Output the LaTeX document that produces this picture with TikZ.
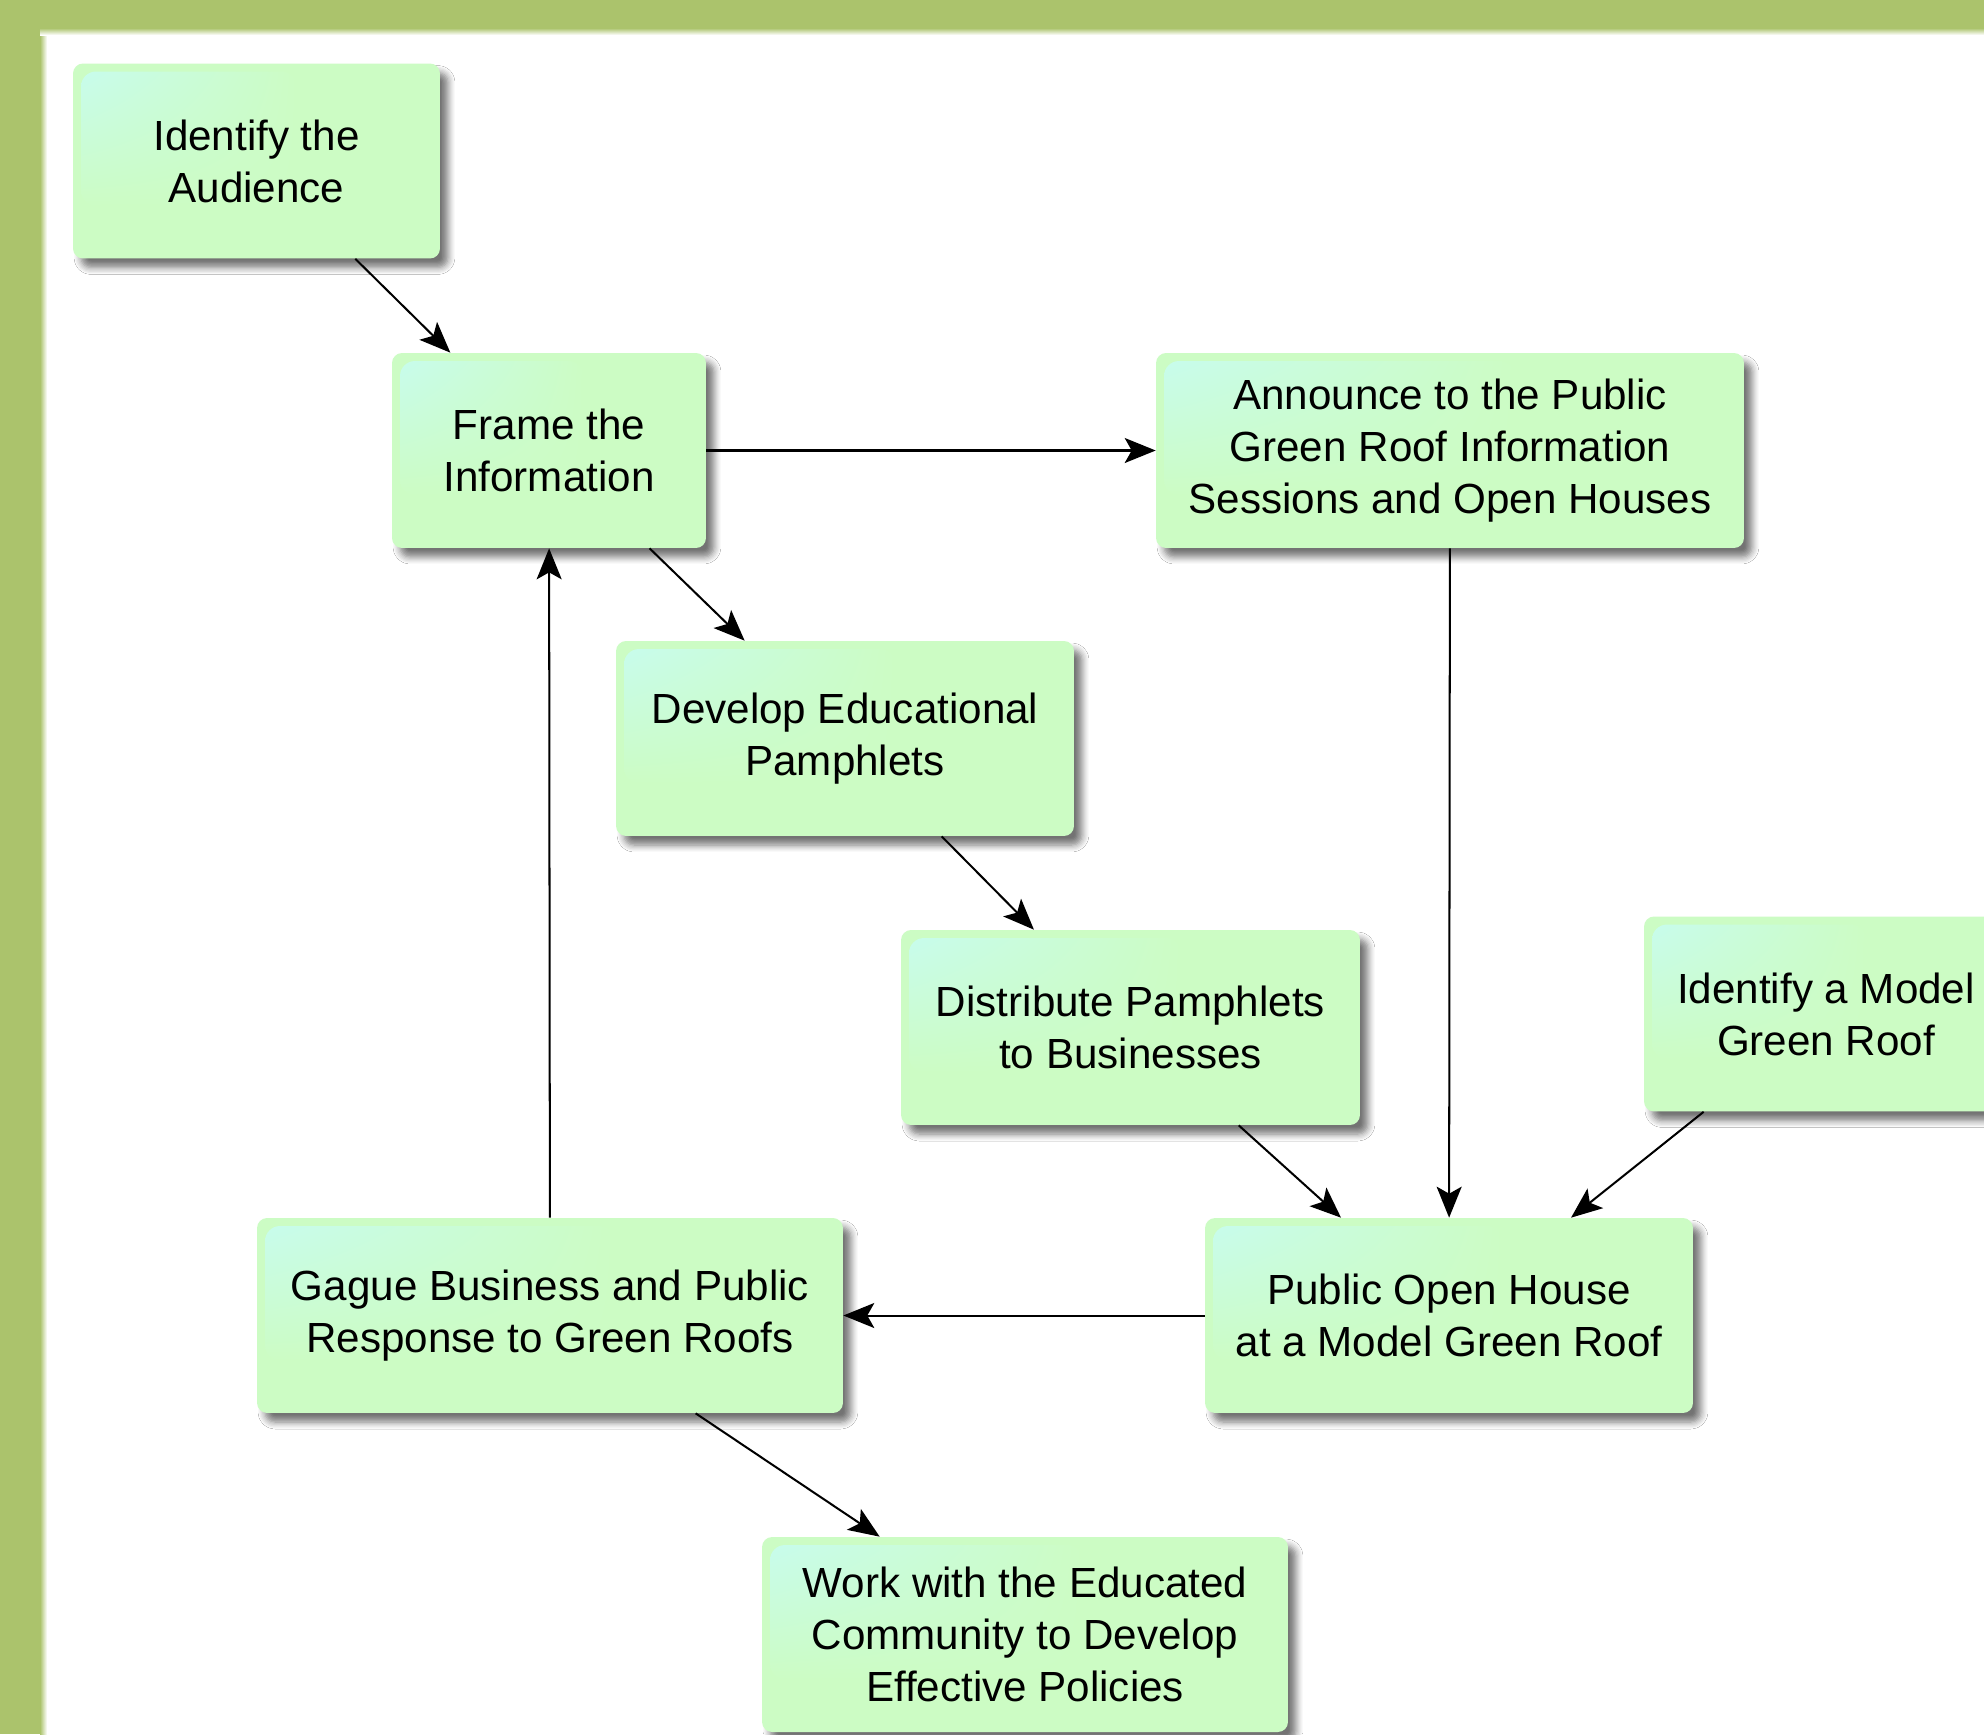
\documentclass[tikz,border=0pt]{standalone}
\usepackage{fontspec}
\setmainfont{Liberation Sans}
\usetikzlibrary{arrows.meta,calc,shadings,shadows,shadows.blur}
\definecolor{frameg}{RGB}{171,195,108}
\definecolor{boxg}{RGB}{204,252,196}
\definecolor{hlc}{RGB}{200,252,236}
\tikzset{
  stepbox/.style={
    rounded corners=0.2cm, fill=boxg, draw=none,
    minimum height=3.9cm, inner sep=0pt, align=center,
    font=\fontsize{24}{29.6}\selectfont,
    blur shadow={shadow xshift=0.16cm, shadow yshift=-0.18cm, shadow opacity=55, shadow blur steps=6, shadow blur radius=0.14cm},
    path picture={
      \coordinate (nw) at (path picture bounding box.north west);
      \coordinate (ne) at (path picture bounding box.north east);
      \coordinate (sw) at (path picture bounding box.south west);
      \coordinate (hx) at ($(nw)!0.61!(ne)$);
      \coordinate (hy) at ($(nw)!0.73!(sw)$);
      \shade[rounded corners=0.3cm, upper left=hlc, upper right=boxg, lower left=boxg, lower right=boxg]
        ([shift={(0.16cm,-0.16cm)}]nw) rectangle (hx |- hy);
    }
  },
  conn/.style={line width=1.15pt, -{Stealth[length=0.62cm,width=0.5cm,inset=0.14cm]}}
}
\begin{document}
\begin{tikzpicture}[x=0.02cm,y=-0.02cm]
\useasboundingbox (0,0) rectangle (1984,1734);
\clip (0,0) rectangle (1984,1734);
\fill[white] (0,0) rectangle (1984,1734);
% frame bands
\fill[frameg] (0,0) rectangle (1984,28);
\fill[frameg] (0,0) rectangle (40,1734);
\shade[left color=frameg, right color=white] (40,28) rectangle (47,1734);
\shade[top color=frameg, bottom color=white] (40,28) rectangle (1984,35);

\node[stepbox, minimum width=7.34cm] (aud) at (256.5,161) {Identify the\\ Audience};
\node[stepbox, minimum width=6.28cm] (frm) at (549,450.5) {Frame the\\Information};
\node[stepbox, minimum width=11.76cm] (ann) at (1450,450.5) {Announce to the Public\\Green Roof Information\\Sessions and Open Houses};
\node[stepbox, minimum width=9.16cm] (dev) at (845,738.5) {Develop Educational\\Pamphlets};
\node[stepbox, minimum width=9.18cm] (dis) at (1130.5,1027.5) {Distribute Pamphlets\\to Businesses};
\node[stepbox, minimum width=7.28cm] (mod) at (1826,1014) {Identify a Model\\Green Roof};
\node[stepbox, minimum width=9.76cm] (poh) at (1449,1315.5) {Public Open House\\at a Model Green Roof};
\node[stepbox, minimum width=11.72cm] (gag) at (550,1315.5) {Gague Business and Public\\Response to Green Roofs};
\node[stepbox, minimum width=10.52cm] (wrk) at (1025,1634.5) {Work with the Educated\\Community to Develop\\Effective Policies};

\draw[conn] (aud) -- (frm);
\draw[conn] (frm) -- (ann);
\draw[conn] (frm) -- (dev);
\draw[conn] (dev) -- (dis);
\draw[conn] (dis) -- (poh);
\draw[conn] (ann) -- (poh);
\draw[conn] (mod) -- (poh);
\draw[conn] (poh) -- (gag);
\draw[conn] (gag) -- (frm);
\draw[conn] (gag) -- (wrk);
\end{tikzpicture}
\end{document}
